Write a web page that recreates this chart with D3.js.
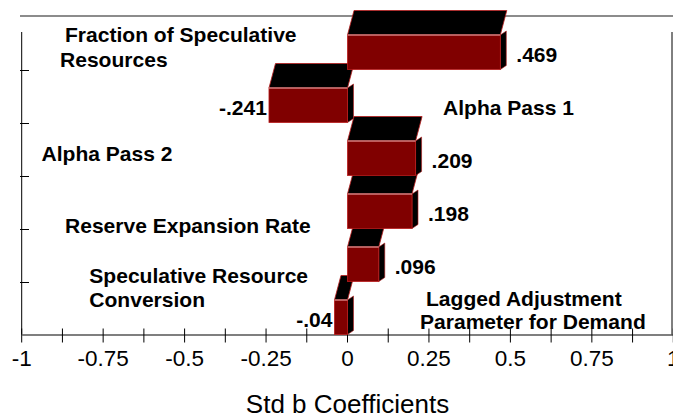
<!DOCTYPE html>
<html>
<head>
<meta charset="utf-8">
<script src="https://cdn.jsdelivr.net/npm/d3@7"></script>
<style>
  html, body { margin: 0; padding: 0; background: #ffffff; }
  svg { display: block; }
  text { font-family: "Liberation Sans", Arial, Helvetica, sans-serif; fill: #000; }
</style>
</head>
<body>
<svg id="chart" width="673" height="419"></svg>
<script>
// ---- data ----
const categories = [
  "Fraction of Speculative Resources",
  "Alpha Pass 1",
  "Alpha Pass 2",
  "Reserve Expansion Rate",
  "Speculative Resource Conversion",
  "Lagged Adjustment Parameter for Demand"
];
const categoryLines = [
  ["Fraction of Speculative", "Resources"],
  ["Alpha Pass 1"],
  ["Alpha Pass 2"],
  ["Reserve Expansion Rate"],
  ["Speculative Resource", "Conversion"],
  ["Lagged Adjustment", "Parameter for Demand"]
];
const values = [0.469, -0.241, 0.209, 0.198, 0.096, -0.04];
const valueLabels = [".469", "-.241", ".209", ".198", ".096", "-.04"];
const tickValues = [-1, -0.75, -0.5, -0.25, 0, 0.25, 0.5, 0.75, 1];
const tickLabels = ["-1", "-0.75", "-0.5", "-0.25", "0", "0.25", "0.5", "0.75", "1"];
const minorTicks = [-1, -0.875, -0.75, -0.625, -0.5, -0.375, -0.25, -0.125, 0, 0.125, 0.25, 0.375, 0.5, 0.625, 0.75, 0.875, 1];
const axisTitle = "Std b Coefficients";

// ---- layout (positions of the category labels, relative to each band) ----
const labelLayout = [
  [{x: 65, dy: 24.7}, {x: 60, dy: 49.7}],
  [{x: 443, dy: 45}],
  [{x: 41.5, dy: 37.7}],
  [{x: 65, dy: 57.3}],
  [{x: 89.3, dy: 53.7}, {x: 89.3, dy: 77.7}],
  [{x: 426, dy: 23.7}, {x: 420, dy: 47.3}]
];

const svg = d3.select("#chart");
const x = d3.scaleLinear().domain([-1, 1]).range([21.7, 673.3]);
const y = d3.scaleBand().domain(categories).range([17, 335]).padding(0);
const bw = y.bandwidth();
const axisY = 334.5;

// back top line
svg.append("line").attr("x1", 20).attr("x2", 673).attr("y1", 16).attr("y2", 16)
  .attr("stroke", "#666").attr("stroke-width", 1.6);
// left axis
svg.append("line").attr("x1", x(-1)).attr("x2", x(-1)).attr("y1", 32).attr("y2", axisY)
  .attr("stroke", "#000").attr("stroke-width", 1);
// right frame
svg.append("line").attr("x1", 672).attr("x2", 672).attr("y1", 32).attr("y2", axisY)
  .attr("stroke", "#000").attr("stroke-width", 1);
// left ticks at band boundaries
svg.selectAll(".ltick").data(categories.slice(1)).enter().append("line")
  .attr("x1", 20).attr("x2", 29)
  .attr("y1", d => Math.round(y(d)) + 0.5).attr("y2", d => Math.round(y(d)) + 0.5)
  .attr("stroke", "#000").attr("stroke-width", 1);

// bottom axis
const xAxis = d3.axisBottom(x).tickValues(minorTicks).tickSize(0).tickFormat("");
const gx = svg.append("g").attr("transform", `translate(0,${axisY})`).call(xAxis);
gx.select(".domain").attr("stroke", "#000").attr("stroke-width", 1.2);
gx.selectAll(".tick line").remove();
svg.selectAll(".btick").data(minorTicks).enter().append("line")
  .attr("x1", d => x(d)).attr("x2", d => x(d))
  .attr("y1", axisY - 6).attr("y2", axisY + 8)
  .attr("stroke", "#000").attr("stroke-width", 1);
svg.selectAll(".blabel").data(tickValues).enter().append("text")
  .attr("x", d => x(d)).attr("y", 366)
  .attr("text-anchor", "middle")
  .style("font-size", "22.5px")
  .text((d, i) => tickLabels[i]);
svg.append("text").attr("x", x(0)).attr("y", 413)
  .attr("text-anchor", "middle").style("font-size", "26px")
  .text(axisTitle);

// ---- bars (3D look) ----
const dxT = 6.5, dyT = 24.5, dxS = 6, dyS = 4;
const frontFill = "#800000", edge = "#b81c1c", hilite = "#eab0b0";
const order = d3.range(categories.length).reverse(); // draw lower bars first
const gBars = svg.append("g");
order.forEach(i => {
  const c = categories[i], v = values[i];
  const x0 = x(Math.min(0, v)), x1 = x(Math.max(0, v));
  const t = y(c) + 18, b = y(c) + bw - 0.5;
  const g = gBars.append("g");
  // top face
  g.append("path")
    .attr("d", `M${x0},${t}L${x0 + dxT},${t - dyT}L${x1 + dxT},${t - dyT}L${x1},${t}Z`)
    .attr("fill", "#000").attr("stroke", edge).attr("stroke-width", 0.8);
  // side face
  g.append("path")
    .attr("d", `M${x1},${t}L${x1 + dxS},${t - dyS}L${x1 + dxS},${b - dyS}L${x1},${b}Z`)
    .attr("fill", "#000").attr("stroke", edge).attr("stroke-width", 0.6);
  // front face
  g.append("rect")
    .attr("x", x0).attr("y", t).attr("width", x1 - x0).attr("height", b - t)
    .attr("fill", frontFill).attr("stroke", edge).attr("stroke-width", 0.8);
  g.append("line").attr("x1", x0).attr("x2", x1).attr("y1", t).attr("y2", t)
    .attr("stroke", hilite).attr("stroke-width", 1);
});

// value labels
categories.forEach((c, i) => {
  const v = values[i];
  const bottom = y(c) + bw;
  const lx = v >= 0 ? x(v) + 16 : x(v) - 2;
  svg.append("text")
    .attr("transform", `translate(${lx},${bottom - 8.3}) scale(1.08,1)`)
    .attr("text-anchor", v >= 0 ? "start" : "end")
    .style("font-size", "19.5px").style("font-weight", "bold")
    .text(valueLabels[i]);
});

// category labels
categories.forEach((c, i) => {
  categoryLines[i].forEach((line, j) => {
    const p = labelLayout[i][j];
    svg.append("text")
      .attr("transform", `translate(${p.x},${y(c) + p.dy}) scale(1.08,1)`)
      .style("font-size", "19.5px").style("font-weight", "bold")
      .text(line);
  });
});
</script>
</body>
</html>
